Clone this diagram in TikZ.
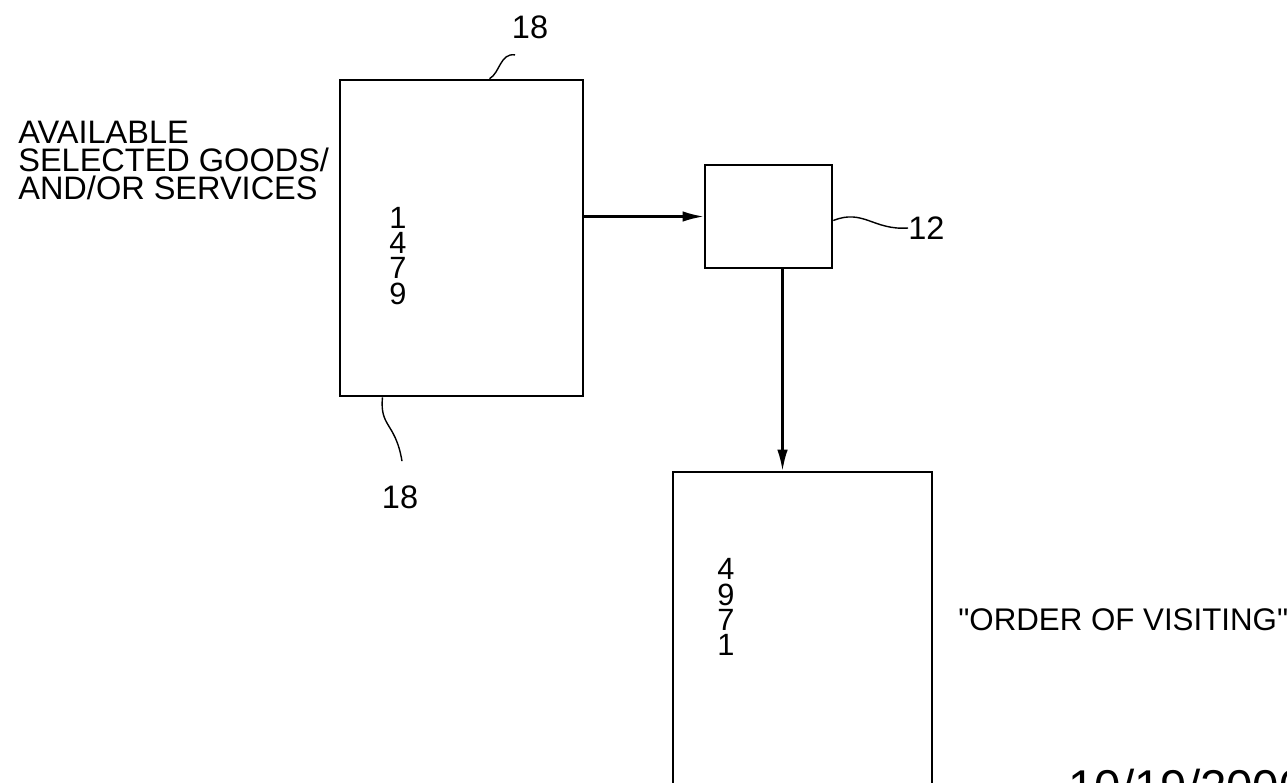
\documentclass[tikz,border=0pt]{standalone}
\usepackage{fontspec}
\setmainfont{Liberation Sans}[Ligatures=TeXOff]
\usetikzlibrary{arrows.meta,positioning}

\tikzset{
  blk/.style={draw,line width=1.5pt,inner sep=0pt},
  lbl/.style={font=\fontsize{18.5}{16}\selectfont,inner sep=0pt},
  digits/.style={font=\fontsize{17.5}{14.3}\selectfont,inner sep=0pt,align=center},
  lead/.style={line width=0.8pt},
}

\begin{document}
\begin{tikzpicture}[x=0.02cm,y=-0.02cm,>={Latex[length=12pt,width=6pt]}]
  \useasboundingbox (0,0) rectangle (1287,782);
  % boxes
  \node[blk,minimum width=4.86cm,minimum height=6.32cm] (goods) at (461.5,238) {};
  \node[blk,minimum width=2.54cm,minimum height=2.06cm] (proc) at (768.5,216.5) {};
  \node[blk,minimum width=5.18cm,minimum height=8.6cm] (visit) at (802.5,687) {};
  % texts
  \node[lbl,align=left,anchor=north west] (avail) at (18,121)
    {AVAILABLE\\SELECTED GOODS/\\AND/OR SERVICES};
  \node[digits] (list) at (398,256) {1\\4\\7\\9};
  \node[digits] (order) at (726,607) {4\\9\\7\\1};
  \node[lbl,font=\fontsize{17.8}{16}\selectfont,anchor=west] (visiting) at (958,620) {"ORDER OF VISITING"};
  \node[lbl] (top18) at (530,27) {18};
  \node[lbl] (bot18) at (400,497) {18};
  \node[lbl,anchor=west] (n12) at (908,228) {12};
  \node[font=\fontsize{27}{30}\selectfont,inner sep=0pt,anchor=base west] (date) at (1068,803) {10/19/2000};
  % connectors
  \draw[->,line width=1.2pt] (goods.east |- proc.west) -- (proc.west);
  \draw[->,line width=1.2pt] ([shift={(14,0)}]proc.south) -- ([shift={(14,0)}]proc.south |- visit.north);
  % leaders
  \draw[lead] ([shift={(-15,16)}]top18.south) .. controls ([shift={(-30,14)}]top18.south) and ([shift={(-30,34)}]top18.south) .. ([shift={(28,0)}]goods.north);
  \draw[lead] ([shift={(-79,0)}]goods.south) .. controls ([shift={(-82,30)}]goods.south) and ([shift={(-66,25)}]goods.south) .. ([shift={(2,-24)}]bot18.north);
  \draw[lead] ([shift={(0,4)}]proc.east) .. controls ([shift={(30,-8)}]proc.east) and ([shift={(40,14)}]proc.east) .. (n12.west);
\end{tikzpicture}
\end{document}
